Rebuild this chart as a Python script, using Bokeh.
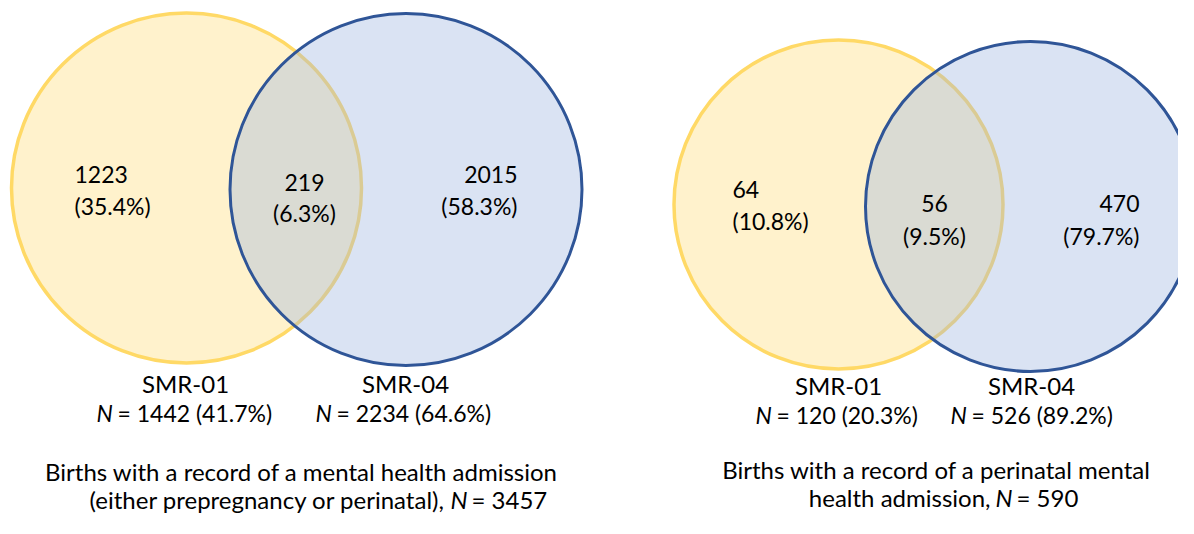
from bokeh.plotting import figure
from bokeh.models import Range1d
from bokeh.core.properties import value
from bokeh.embed import file_html
from bokeh.resources import INLINE

# ---------------- data ----------------
set_names = ["SMR-01", "SMR-04"]
only_a = [1223, 64]      # SMR-01 only
both = [219, 56]         # both registers
only_b = [2015, 470]     # SMR-04 only
caption_line1 = ["Births with a record of a mental health admission",
                 "Births with a record of a perinatal mental"]
caption_line2_prefix = ["(either prepregnancy or perinatal),",
                        "health admission,"]

# ---------------- layout (pixel space of the page) ----------------
layout = [
    dict(ya=(186, 187.5, 175), bl=(405.5, 189, 176),
         a_txt=(74, 174, 205), ab_txt=(304, 182, 212), b_txt=(517, 174, 205),
         lab_y=(383, 412), lab_a=(185, 96), lab_b=(405, 315),
         cap=(301, 471, 499, 450)),
    dict(ya=(838, 204, 164.5), bl=(1030, 206, 165),
         a_txt=(732, 189, 220), ab_txt=(934, 203, 235), b_txt=(1139, 203, 235),
         lab_y=(385, 414), lab_a=(838, 755), lab_b=(1031, 950),
         cap=(936, 469, 497, 995)),
]

FONT = value("Lato")
FS_NUM = "23px"
FS_TXT = "24px"
TXT = "#000000"

p = figure(width=1178, height=518, output_backend="svg", toolbar_location=None,
           x_range=Range1d(0, 1178), y_range=Range1d(518, 0),
           x_axis_type=None, y_axis_type=None, min_border=0,
           background_fill_color="white", border_fill_color="white")
p.outline_line_color = None
p.grid.visible = False


def txt(x, y, s, align="left", style="normal", size=FS_NUM):
    p.text(x=[x], y=[y], text=[s], text_font=FONT, text_font_size=size,
           text_align=align, text_baseline="middle", text_color=TXT,
           text_font_style=style)


def pct(v, tot):
    return f"({v / tot * 100:.1f}%)"


for i, L in enumerate(layout):
    total = only_a[i] + both[i] + only_b[i]
    n_a = only_a[i] + both[i]
    n_b = only_b[i] + both[i]

    xa, ya, ra = L["ya"]
    xb, yb, rb = L["bl"]
    p.circle(x=[xa], y=[ya], radius=[ra], fill_color="#FFF2CC",
             line_color="#FFD966", line_width=3.5)
    p.circle(x=[xb], y=[yb], radius=[rb], fill_color="#9EB5E0", fill_alpha=0.38,
             line_color="#2F5597", line_width=3)

    x, y1, y2 = L["a_txt"]
    txt(x, y1, str(only_a[i]))
    txt(x, y2, pct(only_a[i], total))
    x, y1, y2 = L["ab_txt"]
    txt(x, y1, str(both[i]), "center")
    txt(x, y2, pct(both[i], total), "center")
    x, y1, y2 = L["b_txt"]
    txt(x, y1, str(only_b[i]), "right")
    txt(x, y2, pct(only_b[i], total), "right")

    ly1, ly2 = L["lab_y"]
    for (cx, nx), nm, n in ((L["lab_a"], set_names[0], n_a),
                            (L["lab_b"], set_names[1], n_b)):
        txt(cx, ly1, nm, "center", size=FS_TXT)
        txt(nx, ly2, "N", "left", "italic")
        txt(nx + 21, ly2, f"= {n} {pct(n, total)}")

    cx, cy1, cy2, nx = L["cap"]
    txt(cx, cy1, caption_line1[i], "center", size=FS_TXT)
    txt(nx - 5, cy2, caption_line2_prefix[i], "right", size=FS_TXT)
    txt(nx, cy2, "N", "left", "italic", size=FS_TXT)
    txt(nx + 21, cy2, f"= {total}", size=FS_TXT)

open("out.html", "w").write(file_html(p, INLINE))
